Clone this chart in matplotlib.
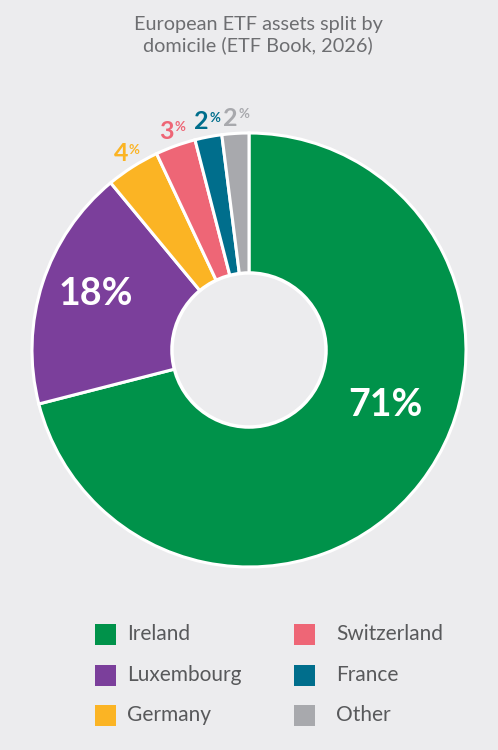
import numpy as np
import matplotlib.pyplot as plt
from matplotlib.patches import Circle, Rectangle

# ====== データ ======
labels = ["Ireland", "Luxembourg", "Germany", "Switzerland", "France", "Other"]
shares = [71, 18, 4, 3, 2, 2]
colors = ["#00924A", "#7B3F9B", "#FBB424", "#EE6676", "#006E8C", "#A8A9AD"]
title = "European ETF assets split by\ndomicile (ETF Book, 2026)"

bg = "#ECECEE"
plt.rcParams["font.family"] = ["Lato", "DejaVu Sans"]

fig = plt.figure(figsize=(4.98, 7.5), dpi=100, facecolor=bg)

# donut: 中心 (249,350) px, 半径 217 px
W, H = 498, 750
cx, cy, R = 249, 350, 217
ax = fig.add_axes([(cx - R) / W, (H - cy - R) / H, 2 * R / W, 2 * R / H])
ax.set_facecolor(bg)

wedges, _ = ax.pie(shares, colors=colors, startangle=90, counterclock=False,
                   radius=1.0,
                   wedgeprops=dict(width=0.65, edgecolor="white", linewidth=2.2))
hole = Circle((0, 0), 0.355, facecolor=bg, edgecolor="white", linewidth=2.5, zorder=5)
ax.add_patch(hole)
ax.set_xlim(-1, 1)
ax.set_ylim(-1, 1)
ax.set_aspect("equal")
ax.axis("off")

# 大きいラベルの位置 (角度, 半径)
big_pos = {0: (-22, 0.68), 1: (160, 0.75)}

cum = np.cumsum([0] + shares[:-1])
for i, (s, c) in enumerate(zip(shares, colors)):
    mid = 90 - (cum[i] + s / 2) * 3.6
    if i in big_pos:
        a, r = big_pos[i]
        a = np.deg2rad(a)
        ax.text(r * np.cos(a), r * np.sin(a), f"{s}%", color="white",
                fontsize=27, fontweight="bold", ha="center", va="center", zorder=6)
    else:
        a = np.deg2rad(mid)
        r = 1.07
        x, y = r * np.cos(a), r * np.sin(a)
        ax.annotate(str(s), (x, y), xytext=(2.5, 0), textcoords="offset points",
                    color=c, fontsize=18, fontweight="bold", ha="right", va="center",
                    annotation_clip=False)
        ax.annotate("%", (x, y), xytext=(3, 3), textcoords="offset points",
                    color=c, fontsize=9.5, fontweight="bold", ha="left", va="center",
                    annotation_clip=False)

fig.text(258 / W, 1 - 35 / H, title, ha="center", va="center", fontsize=14.3,
         color="#6D6E71", linespacing=1.2)

# 凡例 (手動)
sq = 21
col_x = [95, 294]
txt_x = [127, 336]
row_y = [634, 675, 715]
for i, (lab, c) in enumerate(zip(labels, colors)):
    col, row = i // 3, i % 3
    fig.patches.append(Rectangle((col_x[col] / W, 1 - (row_y[row] + sq / 2) / H),
                                 sq / W, sq / H, transform=fig.transFigure,
                                 facecolor=c, edgecolor="none"))
    fig.text(txt_x[col] / W, 1 - row_y[row] / H, lab, ha="left", va="center",
             fontsize=15, color="#58595B")

fig.savefig("out.png", dpi=100, facecolor=bg)
